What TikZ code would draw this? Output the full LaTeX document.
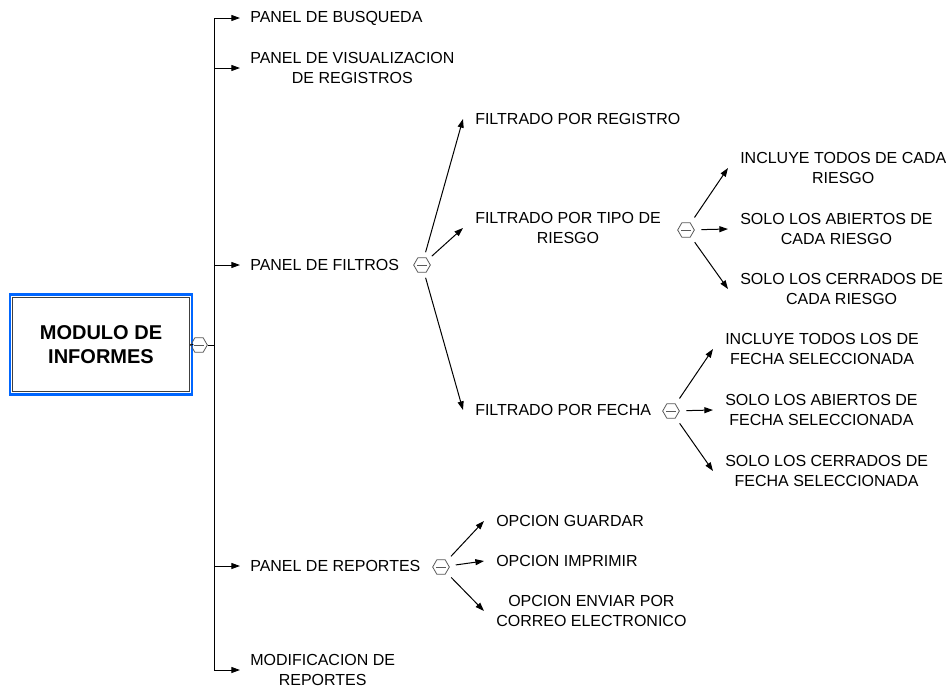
\documentclass[tikz,border=0pt]{standalone}
\usepackage{fontspec}
\setmainfont{Liberation Sans}
\usetikzlibrary{arrows.meta,shapes.geometric}

\tikzset{
  txt/.style={font=\fontsize{12}{15}\selectfont, align=center, inner ysep=0.75pt, anchor=west},
  branch/.style={txt, inner xsep=7.5pt},
  leaf/.style={txt, inner xsep=9pt},
  hex/.style={draw=black!65, line width=0.6pt, regular polygon, regular polygon sides=6,
    minimum size=12.5pt, inner sep=0pt,
    path picture={\draw[black!65, line width=0.6pt] ([xshift=2.6pt]path picture bounding box.west) -- ([xshift=-2.6pt]path picture bounding box.east);}},
  arr/.style={-{Triangle[length=6.5pt,width=4.5pt]}, line width=0.75pt},
  link/.style={line width=0.75pt}
}

\begin{document}
\begin{tikzpicture}[x=0.75pt,y=0.75pt,yscale=-1,xscale=1]
\useasboundingbox (0,0) rectangle (946,689);

%Shape: main box
\node[draw={rgb,255:red,0;green,102;blue,255}, line width=1.6pt, minimum width=137pt, minimum height=75pt,
  font=\fontsize{15}{18}\selectfont\bfseries, align=center] (mod) at (101,344.5) {MODULO DE\\INFORMES};
\draw[black!75, line width=0.75pt] ([shift={(4,4)}]mod.north west) rectangle ([shift={(-4,-4)}]mod.south east);

% collapse markers
\node[hex] (hmod) at (199,345) {};
\node[hex] (hfil) at (422,265) {};
\node[hex] (htip) at (686,230) {};
\node[hex] (hfec) at (671,411) {};
\node[hex] (hrep) at (441,567) {};

% Text Node
\node[branch] (busq) at (240,18) {PANEL DE BUSQUEDA};
\node[branch] (visu) at (240,68) {PANEL DE VISUALIZACION\\DE REGISTROS};
\node[branch] (filt) at (240,265) {PANEL DE FILTROS};
\node[branch] (rep) at (240,566) {PANEL DE REPORTES};
\node[branch] (modif) at (240,670) {MODIFICACION DE\\REPORTES};

\node[leaf] (reg) at (463,119) {FILTRADO POR REGISTRO};
\node[leaf] (tipo) at (463,228) {FILTRADO POR TIPO DE\\RIESGO};
\node[leaf] (fec) at (463,410) {FILTRADO POR FECHA};

\node[leaf] (t1) at (728,168) {INCLUYE TODOS DE CADA\\RIESGO};
\node[leaf] (t2) at (728,229) {SOLO LOS ABIERTOS DE\\CADA RIESGO};
\node[leaf] (t3) at (728,289) {SOLO LOS CERRADOS DE\\CADA RIESGO};

\node[leaf] (f1) at (713,349) {INCLUYE TODOS LOS DE\\FECHA SELECCIONADA};
\node[leaf] (f2) at (713,410) {SOLO LOS ABIERTOS DE\\FECHA SELECCIONADA};
\node[leaf] (f3) at (713,471) {SOLO LOS CERRADOS DE\\FECHA SELECCIONADA};

\node[leaf] (r1) at (484,521) {OPCION GUARDAR};
\node[leaf] (r2) at (484,561) {OPCION IMPRIMIR};
\node[leaf] (r3) at (484,611) {OPCION ENVIAR POR\\CORREO ELECTRONICO};

%Straight Lines: trunk
\coordinate (ttop) at (214,18);
\coordinate (tbot) at (214,670);
\draw[link] (mod.east) -- (hmod.west);
\draw[link] (hmod.east) -- (hmod.east -| ttop);
\draw[link] (ttop) -- (tbot);
\foreach \n in {busq,visu,filt,rep,modif}
  \draw[arr] (ttop |- \n.west) -- (\n.west);

%Straight Lines: sub branches
\foreach \n in {reg,tipo,fec}
  \draw[arr, shorten <=4pt] (hfil) -- (\n.west);
\foreach \n in {t1,t2,t3}
  \draw[arr, shorten <=5pt] (htip) -- (\n.west);
\foreach \n in {f1,f2,f3}
  \draw[arr, shorten <=5pt] (hfec) -- (\n.west);
\foreach \n in {r1,r2,r3}
  \draw[arr, shorten <=5pt] (hrep) -- (\n.west);

\end{tikzpicture}
\end{document}
